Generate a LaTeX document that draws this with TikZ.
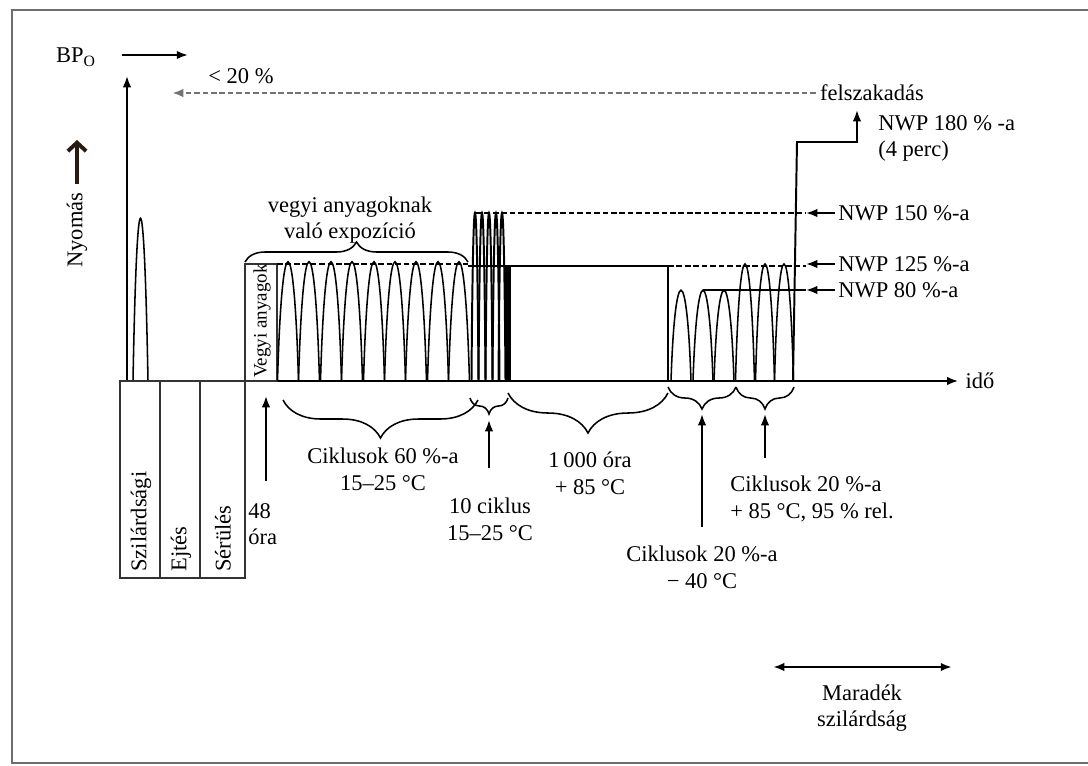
\documentclass[tikz,border=0pt]{standalone}
\usepackage{fontspec}
\setmainfont{Liberation Serif}
\usetikzlibrary{arrows.meta,decorations.pathreplacing,positioning}
\definecolor{keret}{HTML}{6E6E6E}
\definecolor{barna}{HTML}{2B1A14}

\begin{document}
\begin{tikzpicture}[x=0.025cm,y=-0.025cm,
    every node/.style={font=\fontsize{16}{19}\selectfont,inner sep=0pt},
    lbl/.style={align=center},
    vlbl/.style={rotate=90,anchor=west},
    ln/.style={line width=1.4pt},
    cyc/.style={line width=1.1pt},
    box/.style={line width=1.2pt,draw=black!80},
    dsh/.style={line width=1.6pt,dash pattern=on 4pt off 2pt},
    brcU/.style={line width=1.1pt,decorate,decoration={brace,amplitude=#1}},
    brcD/.style={line width=1.1pt,decorate,decoration={brace,mirror,amplitude=#1}},
    >={Latex[length=8pt,width=6pt]},
  ]
  \useasboundingbox (0,0) rectangle (1088,765);
  \draw[keret,line width=2pt] (12,10) rectangle (1100,763);

  % tengelyek
  \node (bpo) at (76,57) {BP\textsubscript{O}};
  \node (lt20) at (241,76) {< 20 \%};
  \node[rotate=90] (nyom) at (77,230) {Nyomás};
  \node (ido) at (980,381) {idő};
  \coordinate (bpa) at (188,55);
  \coordinate (nyt) at (77,140);
  \draw[ln,->] (122,55) -- (bpa);
  \draw[ln,->] (127,381) -- (127,76);
  \draw[ln,->] (120,381) -- ([xshift=-5pt]ido.west);
  \draw[barna,line width=2.8pt,-{Straight Barb[length=6pt,width=13pt]}] ([yshift=6pt]nyom.east) -- (nyt);

  % felszakadas
  \node (felsz) at (872,93) {felszakadás};
  \coordinate (brk) at (172,93);
  \draw[dsh,black!55,->] ([xshift=-3pt]felsz.west) -- (brk);

  % szilardsagi csucs es dobozok
  \draw[cyc] (133,381) .. controls (137,164) and (144,164) .. (148,381);
  \foreach \a/\b in {120/160,160/200,200/245}
    \draw[box] (\a,381) rectangle (\b,578);
  \node[vlbl] (szil) at (141,572) {Szilárdsági};
  \node[vlbl] (ejt) at (181,572) {Ejtés};
  \node[vlbl] (serul) at (223,572) {Sérülés};

  % vegyi anyagok
  \draw[box] (245,381) rectangle (277,264);
  \node[vlbl,font=\fontsize{13.5}{16}\selectfont] (vegyi) at (262,378) {Vegyi anyagok};
  \draw[brcU=0.5cm] (245,262) -- (468,262);
  \node[lbl] (expo) at (350,220) {vegyi anyagoknak\\való expozíció};

  % ciklusok 60 %
  \foreach \c in {288,309,331,352,374,395,416,438,459}
    \draw[cyc] (\c-10.5,381) .. controls (\c-6,222) and (\c+6,222) .. (\c+10.5,381);
  \draw[dsh] (277,264) -- (468,264);

  % 10 ciklus
  \foreach \c in {475,482,489,496,502}
    \draw[line width=1.4pt] (\c-3.5,381) .. controls (\c-2,157) and (\c+2,157) .. (\c+3.5,381);
  \draw[dsh] (476,213) -- (806,213);

  % 1000 ora
  \draw[ln] (468,266) -- (668,266) -- (668,381);
  \draw[line width=4pt] (508,381) -- (508,266);
  \draw[dsh] (668,266) -- (806,266);

  % -40 es +85 ciklusok
  \foreach \c in {681,703,724}
    \draw[cyc] (\c-10,381) .. controls (\c-6,260) and (\c+6,260) .. (\c+10,381);
  \foreach \c in {745,765,784}
    \draw[cyc] (\c-9.5,381) .. controls (\c-5.5,225) and (\c+5.5,225) .. (\c+9.5,381);
  \draw[ln] (703,290) -- (806,290);
  \draw[ln,->] (793,381) -- (797,142) -- (857,142) -- (857,110);

  % NWP szintek
  \node[anchor=north west,align=left] (n180) at (878,115) {NWP 180 \% -a\\(4 perc)};
  \node[anchor=west] (n150) at (838,213) {NWP 150 \%-a};
  \node[anchor=west] (n125) at (838,264) {NWP 125 \%-a};
  \node[anchor=west] (n80) at (838,290) {NWP 80 \%-a};
  \coordinate (nwp) at (806,0);
  \foreach \n in {n150,n125,n80}
    \draw[ln,->] ([xshift=-2pt]\n.west) -- (\n.west -| nwp);

  % also kapcsos zarojelek
  \draw[brcD=0.95cm] (283,400) -- (478,400);
  \draw[brcD=0.4cm] (470,398) -- (508,398);
  \draw[brcD=1.0cm] (508,393) -- (668,393);
  \draw[brcD=0.55cm] (668,387) -- (736,387);
  \draw[brcD=0.55cm] (736,387) -- (794,387);

  \node[lbl] (c60) at (383,469) {Ciklusok 60 \%-a\\15--25 °C};
  \node[anchor=north west,align=left] (h48) at (248,503) {48\\óra};
  \node[lbl] (c10) at (490,519) {10 ciklus\\15--25 °C};
  \node[lbl] (h1000) at (590,473) {1\,000 óra\\+ 85 °C};
  \node[anchor=north west,align=left] (c85) at (730,476) {Ciklusok 20 \%-a\\+ 85 °C, 95 \% rel.};
  \node[lbl] (c40) at (702,567) {Ciklusok 20 \%-a\\− 40 °C};

  \coordinate (a48) at (266,481);
  \coordinate (t48) at (266,396);
  \coordinate (a10) at (489,468);
  \coordinate (t10) at (489,420);
  \coordinate (a40) at (702,527);
  \coordinate (t40) at (702,414);
  \coordinate (a85) at (765,458);
  \coordinate (t85) at (765,414);
  \draw[ln,->] (a48) -- (t48);
  \draw[ln,->] (a10) -- (t10);
  \draw[ln,->] (a40) -- (t40);
  \draw[ln,->] (a85) -- (t85);

  % maradek szilardsag
  \node[lbl] (mar) at (862,708) {Maradék\\szilárdság};
  \coordinate (m1) at (773,667);
  \coordinate (m2) at (952,667);
  \draw[line width=2pt,<->] (m1) -- (m2);
\end{tikzpicture}
\end{document}
